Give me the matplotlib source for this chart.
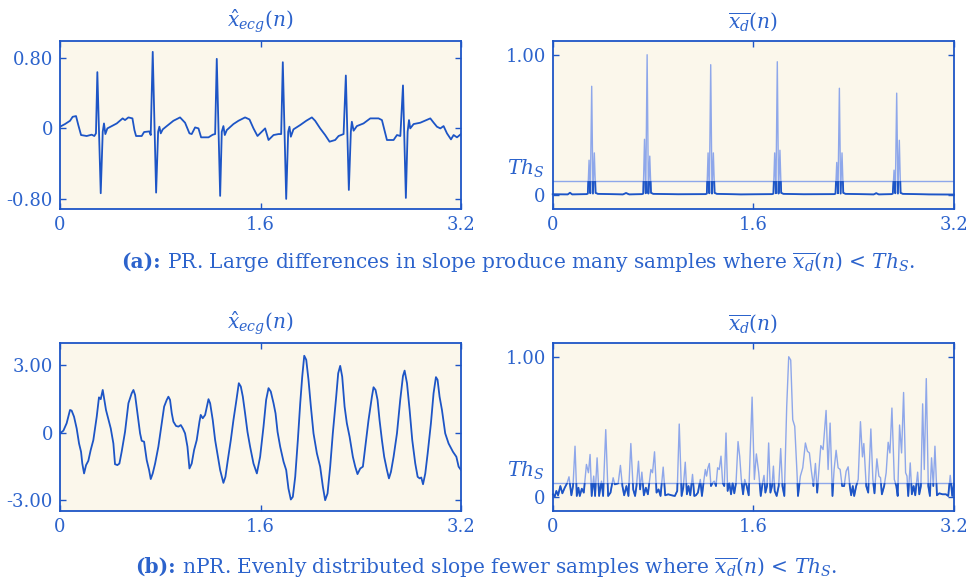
import numpy as np
import matplotlib.pyplot as plt
from matplotlib.patches import Rectangle

plt.rcParams['font.family'] = ['DejaVu Serif']
plt.rcParams['mathtext.fontset'] = 'dejavuserif'

BLUE = '#1D55C6'
TEXT = '#2C63CC'
LIGHT = '#8EA7EA'
BG = '#FBF7EB'

# ---------------------------------------------------------------- data
# (a) PR segment: ECG estimate, (time [s], amplitude)
ecg_pr = [
    (0.000, 0.019), (0.040, 0.049), (0.080, 0.086), (0.101, 0.131), (0.128, 0.139),
    (0.146, 0.038), (0.168, -0.075), (0.213, -0.086), (0.253, -0.071), (0.274, -0.086),
    (0.287, -0.056), (0.298, 0.635), (0.325, -0.732), (0.341, -0.038), (0.351, 0.056),
    (0.362, -0.064), (0.378, 0.000), (0.413, 0.026), (0.453, 0.056), (0.500, 0.113),
    (0.519, 0.094), (0.546, 0.124), (0.578, 0.113), (0.594, -0.019), (0.607, -0.086),
    (0.652, -0.086), (0.671, -0.041), (0.713, -0.034), (0.724, -0.075), (0.740, 0.864),
    (0.767, -0.725), (0.783, -0.038), (0.793, 0.019), (0.804, -0.056), (0.820, -0.011),
    (0.852, 0.026), (0.905, 0.086), (0.958, 0.124), (0.998, 0.064), (1.033, -0.056),
    (1.051, -0.064), (1.078, 0.011), (1.105, 0.000), (1.126, -0.101), (1.185, -0.101),
    (1.219, -0.071), (1.238, -0.064), (1.251, 0.785), (1.278, -0.762), (1.291, -0.038),
    (1.304, 0.026), (1.315, -0.075), (1.331, -0.019), (1.384, 0.049), (1.424, 0.086),
    (1.477, 0.124), (1.512, 0.101), (1.544, 0.000), (1.576, -0.086), (1.610, -0.038),
    (1.637, 0.000), (1.664, -0.131), (1.704, -0.075), (1.744, -0.064), (1.765, -0.064),
    (1.778, 0.747), (1.805, -0.796), (1.821, -0.038), (1.831, 0.019), (1.842, -0.094),
    (1.863, -0.011), (1.917, 0.038), (1.965, 0.086), (2.010, 0.124), (2.036, 0.086),
    (2.076, 0.000), (2.116, -0.075), (2.151, -0.150), (2.196, -0.131), (2.223, -0.086),
    (2.263, -0.064), (2.281, 0.597), (2.305, -0.695), (2.321, -0.038), (2.329, 0.075),
    (2.343, -0.026), (2.369, 0.026), (2.422, 0.056), (2.476, 0.113), (2.542, 0.113),
    (2.569, 0.094), (2.609, -0.131), (2.662, -0.131), (2.689, -0.075), (2.716, -0.086),
    (2.737, 0.485), (2.760, -0.785), (2.774, -0.038), (2.785, 0.094), (2.795, 0.000),
    (2.822, 0.049), (2.875, 0.064), (2.955, 0.113), (2.982, 0.064), (3.008, 0.019),
    (3.035, 0.000), (3.061, 0.026), (3.088, -0.056), (3.120, -0.124), (3.141, -0.075),
    (3.168, -0.101), (3.200, -0.064),
]

# (a) PR segment: normalised mean slope
slope_pr = [
    (0.000, 0.005), (0.120, 0.004), (0.138, 0.016), (0.155, 0.004), (0.270, 0.006),
    (0.280, 0.010), (0.290, 0.248), (0.300, 0.012), (0.311, 0.775), (0.321, 0.010),
    (0.332, 0.300), (0.342, 0.015), (0.360, 0.008), (0.560, 0.004), (0.585, 0.014),
    (0.610, 0.004), (0.712, 0.006), (0.722, 0.010), (0.732, 0.397), (0.742, 0.012),
    (0.753, 1.000), (0.763, 0.010), (0.774, 0.277), (0.784, 0.015), (0.802, 0.008),
    (1.000, 0.005), (1.219, 0.006), (1.229, 0.010), (1.239, 0.300), (1.249, 0.012),
    (1.260, 0.929), (1.270, 0.010), (1.281, 0.300), (1.291, 0.015), (1.309, 0.008),
    (1.500, 0.004), (1.750, 0.006), (1.760, 0.010), (1.770, 0.300), (1.780, 0.012),
    (1.791, 0.950), (1.801, 0.010), (1.812, 0.319), (1.822, 0.015), (1.840, 0.008),
    (2.000, 0.005), (2.245, 0.006), (2.255, 0.010), (2.265, 0.232), (2.275, 0.012),
    (2.286, 0.761), (2.296, 0.010), (2.307, 0.300), (2.317, 0.015), (2.335, 0.008),
    (2.560, 0.004), (2.580, 0.013), (2.600, 0.004), (2.702, 0.006), (2.712, 0.010),
    (2.722, 0.177), (2.732, 0.012), (2.743, 0.726), (2.753, 0.010), (2.764, 0.390),
    (2.774, 0.015), (2.792, 0.008), (3.000, 0.004), (3.200, 0.003),
]

# (b) nPR segment: ECG estimate
ecg_npr = [
    (0.000, -0.03), (0.027, 0.09), (0.053, 0.42), (0.080, 1.01), (0.093, 0.98),
    (0.112, 0.71), (0.133, 0.19), (0.152, -0.48), (0.168, -0.85), (0.178, -1.37),
    (0.192, -1.81), (0.208, -1.44), (0.226, -1.25), (0.245, -0.77), (0.266, -0.33),
    (0.293, 0.71), (0.311, 1.57), (0.325, 1.49), (0.341, 1.90), (0.354, 1.46),
    (0.367, 1.01), (0.386, 0.59), (0.405, 0.19), (0.426, -0.48), (0.439, -1.40),
    (0.458, -1.44), (0.474, -1.37), (0.492, -0.85), (0.519, 0.04), (0.546, 1.31),
    (0.572, 1.75), (0.586, 1.90), (0.599, 1.68), (0.618, 0.86), (0.639, -0.03),
    (0.652, -0.36), (0.671, -0.40), (0.692, -1.22), (0.711, -1.66), (0.724, -2.06),
    (0.740, -1.81), (0.759, -1.37), (0.785, -0.62), (0.812, 0.42), (0.831, 1.16),
    (0.852, 1.46), (0.865, 1.60), (0.878, 1.46), (0.892, 0.86), (0.905, 0.49),
    (0.926, 0.30), (0.945, 0.27), (0.964, 0.34), (0.980, 0.19), (0.998, -0.03),
    (1.017, -0.62), (1.033, -1.59), (1.051, -1.37), (1.070, -0.77), (1.091, -0.33),
    (1.113, 0.49), (1.123, 0.79), (1.139, 0.64), (1.158, 0.79), (1.185, 1.49),
    (1.198, 1.31), (1.219, 0.56), (1.238, -0.33), (1.256, -0.92), (1.278, -1.66),
    (1.304, -2.23), (1.320, -1.96), (1.339, -1.22), (1.363, -0.33), (1.384, 0.56),
    (1.406, 1.38), (1.427, 2.20), (1.443, 2.05), (1.459, 1.60), (1.477, 0.86),
    (1.496, 0.04), (1.517, -0.62), (1.544, -1.37), (1.571, -1.81), (1.597, -1.07),
    (1.624, 0.27), (1.645, 1.46), (1.664, 1.98), (1.682, 1.83), (1.704, 1.31),
    (1.720, 0.86), (1.736, 0.04), (1.757, -0.62), (1.784, -1.29), (1.805, -1.66),
    (1.823, -2.48), (1.842, -2.97), (1.858, -2.85), (1.877, -1.96), (1.898, -0.33),
    (1.917, 1.31), (1.933, 2.49), (1.949, 3.42), (1.965, 3.24), (1.983, 2.35),
    (2.002, 1.16), (2.023, -0.03), (2.050, -0.92), (2.076, -1.51), (2.098, -2.41),
    (2.116, -3.00), (2.135, -2.70), (2.156, -1.51), (2.177, -0.03), (2.204, 1.60),
    (2.220, 2.64), (2.236, 2.97), (2.252, 2.49), (2.271, 1.16), (2.289, 0.42),
    (2.311, -0.18), (2.337, -1.07), (2.356, -1.51), (2.374, -1.84), (2.396, -1.59),
    (2.417, -1.51), (2.436, -0.62), (2.462, 0.56), (2.489, 1.60), (2.502, 2.02),
    (2.518, 1.90), (2.534, 1.46), (2.550, 0.56), (2.569, -0.33), (2.587, -1.07),
    (2.609, -1.66), (2.625, -2.03), (2.641, -1.74), (2.662, -1.07), (2.689, -0.03),
    (2.715, 1.46), (2.737, 2.52), (2.750, 2.76), (2.769, 2.20), (2.790, 1.01),
    (2.811, -0.33), (2.835, -1.37), (2.854, -1.96), (2.870, -2.03), (2.883, -1.99),
    (2.897, -2.29), (2.915, -1.81), (2.934, -0.92), (2.960, 0.42), (2.981, 1.75),
    (3.000, 2.47), (3.013, 2.35), (3.029, 1.60), (3.048, 1.01), (3.074, -0.03),
    (3.101, -0.48), (3.136, -0.85), (3.163, -1.07), (3.181, -1.51), (3.200, -1.66),
]

# (b) nPR segment: normalised mean slope
slope_npr = [
    (0.003, 0.019), (0.016, 0.002), (0.029, 0.043), (0.043, 0.012), (0.061, 0.078),
    (0.077, 0.026), (0.096, 0.066), (0.114, 0.097), (0.130, 0.144), (0.149, 0.012),
    (0.162, 0.078), (0.178, 0.362), (0.192, 0.007), (0.205, 0.066), (0.216, 0.007),
    (0.232, 0.059), (0.248, 0.031), (0.269, 0.232), (0.285, 0.173), (0.298, 0.303),
    (0.311, 0.007), (0.327, 0.149), (0.338, 0.007), (0.354, 0.279), (0.370, 0.007),
    (0.389, 0.113), (0.402, 0.007), (0.423, 0.480), (0.442, 0.007), (0.461, 0.031),
    (0.482, 0.137), (0.495, 0.090), (0.522, 0.097), (0.540, 0.225), (0.556, 0.078),
    (0.570, 0.012), (0.588, 0.078), (0.604, 0.007), (0.623, 0.381), (0.642, 0.054),
    (0.657, 0.007), (0.668, 0.078), (0.684, 0.255), (0.697, 0.054), (0.711, 0.177),
    (0.727, 0.012), (0.743, 0.066), (0.759, 0.019), (0.783, 0.196), (0.796, 0.173),
    (0.812, 0.322), (0.828, 0.031), (0.844, 0.054), (0.860, 0.007), (0.881, 0.213),
    (0.897, 0.012), (0.921, 0.019), (0.948, 0.012), (0.974, 0.007), (0.993, 0.043),
    (1.009, 0.520), (1.028, 0.007), (1.041, 0.066), (1.057, 0.248), (1.070, 0.019),
    (1.083, 0.078), (1.097, 0.012), (1.115, 0.161), (1.129, 0.007), (1.142, 0.012),
    (1.158, 0.031), (1.177, 0.125), (1.190, 0.007), (1.203, 0.102), (1.217, 0.196),
    (1.227, 0.149), (1.238, 0.208), (1.249, 0.239), (1.262, 0.078), (1.276, 0.102),
    (1.288, 0.113), (1.302, 0.078), (1.315, 0.208), (1.328, 0.196), (1.342, 0.291),
    (1.355, 0.102), (1.368, 0.078), (1.382, 0.456), (1.395, 0.043), (1.408, 0.102),
    (1.422, 0.019), (1.435, 0.102), (1.448, 0.026), (1.462, 0.102), (1.478, 0.395),
    (1.491, 0.291), (1.504, 0.125), (1.518, 0.019), (1.531, 0.125), (1.547, 0.078),
    (1.563, 0.012), (1.590, 0.712), (1.608, 0.125), (1.624, 0.307), (1.643, 0.173),
    (1.659, 0.007), (1.674, 0.102), (1.685, 0.154), (1.696, 0.031), (1.709, 0.078),
    (1.722, 0.385), (1.736, 0.031), (1.749, 0.078), (1.760, 0.220), (1.770, 0.043),
    (1.786, 0.007), (1.802, 0.078), (1.818, 0.345), (1.832, 0.078), (1.847, 0.007),
    (1.866, 0.645), (1.882, 1.000), (1.898, 0.976), (1.914, 0.551), (1.930, 0.504),
    (1.948, 0.173), (1.956, 0.007), (1.975, 0.149), (1.994, 0.208), (2.015, 0.385),
    (2.031, 0.326), (2.047, 0.314), (2.063, 0.184), (2.079, 0.078), (2.095, 0.239),
    (2.109, 0.031), (2.138, 0.366), (2.156, 0.338), (2.180, 0.617), (2.196, 0.196),
    (2.212, 0.527), (2.231, 0.007), (2.244, 0.196), (2.260, 0.333), (2.276, 0.208),
    (2.292, 0.196), (2.308, 0.078), (2.324, 0.078), (2.340, 0.184), (2.356, 0.215),
    (2.369, 0.078), (2.380, 0.012), (2.393, 0.078), (2.404, 0.007), (2.420, 0.078),
    (2.436, 0.125), (2.454, 0.537), (2.470, 0.286), (2.481, 0.381), (2.500, 0.078),
    (2.516, 0.031), (2.537, 0.485), (2.553, 0.125), (2.566, 0.026), (2.585, 0.272),
    (2.601, 0.149), (2.614, 0.137), (2.625, 0.019), (2.643, 0.078), (2.659, 0.173),
    (2.675, 0.390), (2.689, 0.314), (2.705, 0.634), (2.724, 0.125), (2.740, 0.078),
    (2.751, 0.007), (2.766, 0.513), (2.782, 0.314), (2.798, 0.745), (2.814, 0.173),
    (2.825, 0.149), (2.835, 0.007), (2.851, 0.243), (2.864, 0.019), (2.878, 0.078),
    (2.891, 0.012), (2.910, 0.177), (2.923, 0.019), (2.936, 0.078), (2.950, 0.664),
    (2.963, 0.196), (2.979, 0.844), (2.995, 0.078), (3.008, 0.007), (3.021, 0.279),
    (3.035, 0.078), (3.048, 0.362), (3.064, 0.012), (3.083, 0.026), (3.109, 0.019),
    (3.136, 0.019), (3.154, 0.007), (3.170, 0.154), (3.186, 0.007), (3.200, 0.102),
]

th_s = 0.10            # slope threshold Th_S
x_ticks = [0, 1.6, 3.2]
x_ticklabels = ['0', '1.6', '3.2']

W, H = 971, 583
fig = plt.figure(figsize=(W / 100, H / 100), dpi=100)

TICK_FS = 13
TITLE_FS = 14.5
CAP_FS = 14.5


def px_rect(x0, y0, x1, y1):
    return [x0 / W, 1 - y1 / H, (x1 - x0) / W, (y1 - y0) / H]


def style(ax, ylim, yticks, yticklabels):
    ax.set_facecolor(BG)
    ax.set_xlim(0, 3.2)
    ax.set_ylim(*ylim)
    ax.set_xticks(x_ticks)
    ax.set_xticklabels(x_ticklabels)
    ax.set_yticks(yticks)
    ax.set_yticklabels(yticklabels)
    ax.tick_params(direction='in', length=4, width=1.0, color=BLUE,
                   labelcolor=TEXT, labelsize=TICK_FS, top=True, right=True)
    ax.tick_params(axis='x', pad=5)
    ax.tick_params(axis='y', pad=5)
    for s in ax.spines.values():
        s.set_color(BLUE)
        s.set_linewidth(1.3)


def ecg_panel(rect, data, ylim, yticks, yticklabels):
    ax = fig.add_axes(rect)
    t, v = np.array(data).T
    ax.plot(t, v, color=BLUE, lw=1.3, solid_joinstyle='round')
    style(ax, ylim, yticks, yticklabels)
    ax.set_title(r'$\hat{x}_{ecg}(n)$', color=TEXT, fontsize=TITLE_FS, pad=9)
    return ax


def slope_panel(rect, data):
    ax = fig.add_axes(rect)
    t, v = np.array(data).T
    ax.plot(t, v, color=LIGHT, lw=1.0)
    ax.axhline(th_s, color=LIGHT, lw=1.0)
    below, = ax.plot(t, v, color=BLUE, lw=1.3)
    clip = Rectangle((-1, -1), 5, 1 + th_s, transform=ax.transData,
                     facecolor='none', edgecolor='none')
    below.set_clip_path(clip)
    style(ax, (-0.1, 1.1), [0, 1.0], ['0', '1.00'])
    ax.text(-0.02, th_s + 0.01, r'$Th_S$', transform=ax.get_yaxis_transform(),
            ha='right', va='bottom', color=TEXT, fontsize=TITLE_FS)
    ax.set_title(r'$\overline{x_d}(n)$', color=TEXT, fontsize=TITLE_FS, pad=9)
    return ax


top = (40.7, 209)
bot = (342.7, 511)
left = (60, 461)
right = (552.7, 954)

ecg_panel(px_rect(left[0], top[0], left[1], top[1]), ecg_pr,
          (-0.91, 0.99), [-0.8, 0, 0.8], ['-0.80', '0', '0.80'])
slope_panel(px_rect(right[0], top[0], right[1], top[1]), slope_pr)
ecg_panel(px_rect(left[0], bot[0], left[1], bot[1]), ecg_npr,
          (-3.48, 4.0), [-3, 0, 3], ['-3.00', '0', '3.00'])
slope_panel(px_rect(right[0], bot[0], right[1], bot[1]), slope_npr)

# captions: bold label followed by the description
renderer = fig.canvas.get_renderer()


def caption(xc, yb, bold, rest):
    t1 = fig.text(0, 0, bold, fontweight='bold', color=TEXT, fontsize=CAP_FS,
                  va='baseline')
    t2 = fig.text(0, 0, rest, color=TEXT, fontsize=CAP_FS, va='baseline')
    w1 = t1.get_window_extent(renderer).width
    w2 = t2.get_window_extent(renderer).width
    x0 = xc - (w1 + w2) / 2
    t1.set_position((x0 / W, 1 - yb / H))
    t2.set_position(((x0 + w1) / W, 1 - yb / H))


caption(518, 268, '(a):',
        r' PR. Large differences in slope produce many samples where '
        r'$\overline{x_d}(n)$ < $Th_S$.')
caption(486, 573, '(b):',
        r' nPR. Evenly distributed slope fewer samples where '
        r'$\overline{x_d}(n)$ < $Th_S$.')

fig.savefig('out.png', dpi=100, facecolor='white')
